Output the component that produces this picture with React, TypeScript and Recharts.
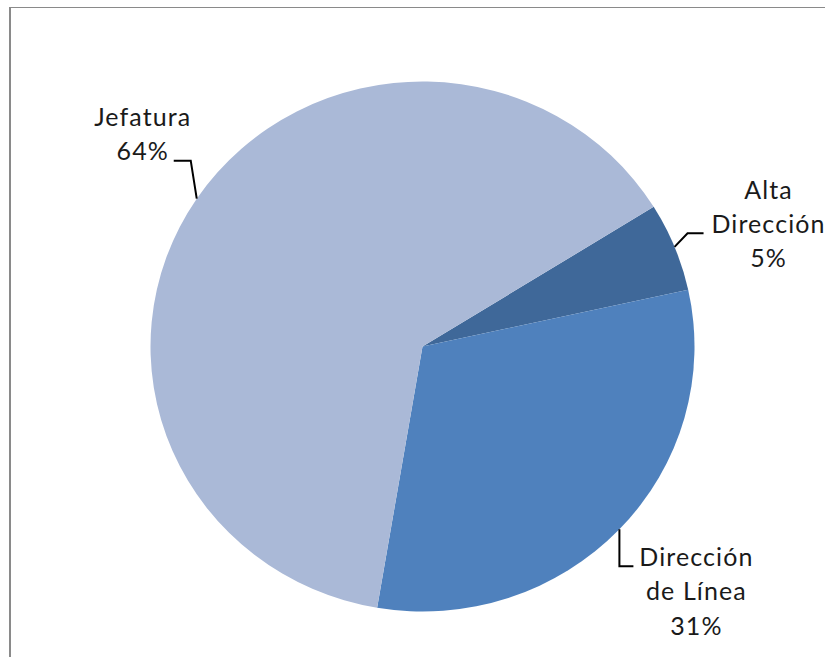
import React from 'react';
import { PieChart, Pie, Cell } from 'recharts';

// Reparto por nivel de cargo (en %)
const categories = ['Alta Dirección', 'Dirección de Línea', 'Jefatura'];
const shares = [5.4, 31.1, 63.5];
const labelLines = [['Alta', 'Dirección'], ['Dirección', 'de Línea'], ['Jefatura']];
const colors = ['#3F6899', '#4F81BD', '#AAB9D7'];

const data = categories.map((name, i) => ({ name, value: shares[i] }));
const total = shares.reduce((a, b) => a + b, 0);

// leader elbow / end and text block placement, relative to the point on the pie edge
const labelLayout: Record<string, { elbow: [number, number]; end: [number, number]; tx: number; ty: number }> = {
  'Alta Dirección': { elbow: [13, -14], end: [29, -14], tx: 94, ty: -49 },
  'Dirección de Línea': { elbow: [0, 38], end: [14, 38], tx: 77, ty: 38 },
  Jefatura: { elbow: [-6, -39], end: [-23, -39], tx: -54, ty: -75 },
};

const RADIAN = Math.PI / 180;
const LINE_H = 35;
const SQUASH = 265 / 272;

const renderLabel = (props: any) => {
  const { cx, cy, midAngle, outerRadius, index } = props;
  const name = categories[index];
  const lay = labelLayout[name];
  const px = cx + outerRadius * Math.cos(-midAngle * RADIAN);
  const py = cy + outerRadius * Math.sin(-midAngle * RADIAN);
  const pct = Math.round((shares[index] / total) * 100) + '%';
  const lines = [...labelLines[index], pct];
  return (
    <g key={`lbl-${index}`}>
      <polyline
        points={`${px},${py} ${px + lay.elbow[0]},${py + lay.elbow[1]} ${px + lay.end[0]},${py + lay.end[1]}`}
        fill="none"
        stroke="#000"
        strokeWidth={2}
      />
      <text
        x={px + lay.tx}
        y={py + lay.ty}
        textAnchor="middle"
        fill="#1a1a1a"
        style={{ fontFamily: 'Lato, sans-serif', fontSize: 25, letterSpacing: 1.1 }}
      >
        {lines.map((t, i) => (
          <tspan key={i} x={px + lay.tx} dy={i === 0 ? 0 : LINE_H}>
            {t}
          </tspan>
        ))}
      </text>
    </g>
  );
};

export default function App() {
  return (
    <div style={{ position: 'absolute', left: 0, top: 0, width: 825, height: 657, overflow: 'hidden', background: '#fff' }}>
      <div
        style={{
          position: 'absolute',
          left: 9,
          top: 7,
          width: 816,
          height: 650,
          borderLeft: '2px solid #8a8a8a',
          borderTop: '1px solid #8a8a8a',
          boxSizing: 'border-box',
        }}
      />
      <div style={{ position: 'absolute', left: 0, top: 0, transform: `scaleY(${SQUASH})`, transformOrigin: '0 346.5px' }}>
        <PieChart width={825} height={657} margin={{ top: 0, right: 0, bottom: 0, left: 0 }}>
          <Pie
            data={data}
            dataKey="value"
            nameKey="name"
            cx={422.5}
            cy={346.5}
            outerRadius={272}
            startAngle={31.8}
            endAngle={31.8 - 360}
            stroke="none"
            label={renderLabel}
            labelLine={false}
            isAnimationActive={false}
          >
            {data.map((d, i) => (
              <Cell key={d.name} fill={colors[i]} />
            ))}
          </Pie>
        </PieChart>
      </div>
    </div>
  );
}
